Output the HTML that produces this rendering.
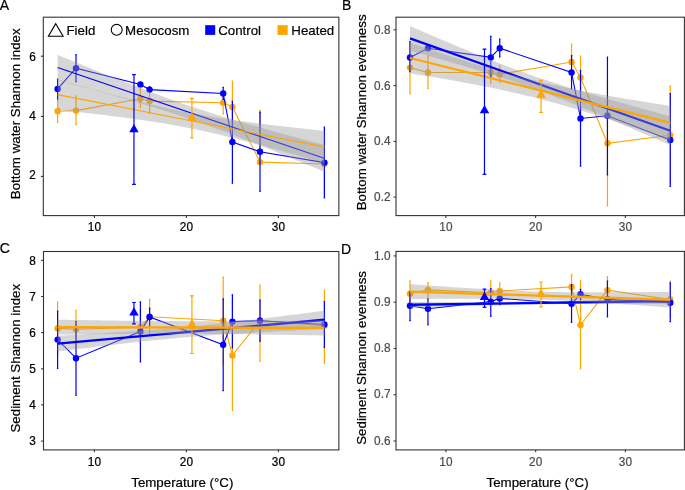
<!DOCTYPE html>
<html><head><meta charset="utf-8"><style>
html,body{margin:0;padding:0;background:#fff;}
body{width:685px;height:490px;overflow:hidden;font-family:"Liberation Sans",sans-serif;}
svg{display:block;will-change:transform;}
</style></head><body>
<svg width="685" height="490" viewBox="0 0 685 490" font-family="Liberation Sans, sans-serif">
<rect width="685" height="490" fill="#fff"/>
<clipPath id="cA"><rect x="43.3" y="17.2" width="295.55" height="198.4"/></clipPath>
<g clip-path="url(#cA)">
<line x1="57.6" y1="99.8" x2="57.6" y2="122.4" stroke="#FFA500" stroke-width="1.2"/><line x1="56.9" y1="99.8" x2="58.3" y2="99.8" stroke="#FFA500" stroke-width="1.2"/><line x1="56.9" y1="122.4" x2="58.3" y2="122.4" stroke="#FFA500" stroke-width="1.2"/>
<line x1="76" y1="95.9" x2="76" y2="124.7" stroke="#FFA500" stroke-width="1.2"/><line x1="75.3" y1="95.9" x2="76.7" y2="95.9" stroke="#FFA500" stroke-width="1.2"/><line x1="75.3" y1="124.7" x2="76.7" y2="124.7" stroke="#FFA500" stroke-width="1.2"/>
<line x1="140.4" y1="87.9" x2="140.4" y2="107.2" stroke="#FFA500" stroke-width="1.2"/><line x1="139.7" y1="87.9" x2="141.1" y2="87.9" stroke="#FFA500" stroke-width="1.2"/><line x1="139.7" y1="107.2" x2="141.1" y2="107.2" stroke="#FFA500" stroke-width="1.2"/>
<line x1="149.6" y1="86.3" x2="149.6" y2="113.4" stroke="#FFA500" stroke-width="1.2"/><line x1="148.9" y1="86.3" x2="150.3" y2="86.3" stroke="#FFA500" stroke-width="1.2"/><line x1="148.9" y1="113.4" x2="150.3" y2="113.4" stroke="#FFA500" stroke-width="1.2"/>
<line x1="223.2" y1="93" x2="223.2" y2="113.8" stroke="#FFA500" stroke-width="1.2"/><line x1="222.5" y1="93" x2="223.9" y2="93" stroke="#FFA500" stroke-width="1.2"/><line x1="222.5" y1="113.8" x2="223.9" y2="113.8" stroke="#FFA500" stroke-width="1.2"/>
<line x1="232.4" y1="81.2" x2="232.4" y2="133" stroke="#FFA500" stroke-width="1.2"/><line x1="231.7" y1="81.2" x2="233.1" y2="81.2" stroke="#FFA500" stroke-width="1.2"/><line x1="231.7" y1="133" x2="233.1" y2="133" stroke="#FFA500" stroke-width="1.2"/>
<line x1="260" y1="110.3" x2="260" y2="160" stroke="#FFA500" stroke-width="1.2"/><line x1="259.3" y1="110.3" x2="260.7" y2="110.3" stroke="#FFA500" stroke-width="1.2"/><line x1="259.3" y1="160" x2="260.7" y2="160" stroke="#FFA500" stroke-width="1.2"/>
<line x1="324.4" y1="129.5" x2="324.4" y2="193.8" stroke="#FFA500" stroke-width="1.2"/><line x1="323.7" y1="129.5" x2="325.1" y2="129.5" stroke="#FFA500" stroke-width="1.2"/><line x1="323.7" y1="193.8" x2="325.1" y2="193.8" stroke="#FFA500" stroke-width="1.2"/>
<polyline points="57.6,111.2 76,110.6 140.4,98.8 149.6,101.1 223.2,102.8 232.4,107 260,162.1 324.4,164" fill="none" stroke="#FFA500" stroke-width="1.1"/>
<circle cx="57.6" cy="111.2" r="3.2" fill="#FFA500"/>
<circle cx="76" cy="110.6" r="3.2" fill="#FFA500"/>
<circle cx="140.4" cy="98.8" r="3.2" fill="#FFA500"/>
<circle cx="149.6" cy="101.1" r="3.2" fill="#FFA500"/>
<circle cx="223.2" cy="102.8" r="3.2" fill="#FFA500"/>
<circle cx="232.4" cy="107" r="3.2" fill="#FFA500"/>
<circle cx="260" cy="162.1" r="3.2" fill="#FFA500"/>
<circle cx="324.4" cy="164" r="3.2" fill="#FFA500"/>
<line x1="57.6" y1="79.2" x2="57.6" y2="98.8" stroke="#0000FF" stroke-width="1.2"/><line x1="56.9" y1="79.2" x2="58.3" y2="79.2" stroke="#0000FF" stroke-width="1.2"/><line x1="56.9" y1="98.8" x2="58.3" y2="98.8" stroke="#0000FF" stroke-width="1.2"/>
<line x1="76" y1="54.7" x2="76" y2="81.6" stroke="#0000FF" stroke-width="1.2"/><line x1="75.3" y1="54.7" x2="76.7" y2="54.7" stroke="#0000FF" stroke-width="1.2"/><line x1="75.3" y1="81.6" x2="76.7" y2="81.6" stroke="#0000FF" stroke-width="1.2"/>
<line x1="140.4" y1="82.5" x2="140.4" y2="86.5" stroke="#0000FF" stroke-width="1.2"/><line x1="139.7" y1="82.5" x2="141.1" y2="82.5" stroke="#0000FF" stroke-width="1.2"/><line x1="139.7" y1="86.5" x2="141.1" y2="86.5" stroke="#0000FF" stroke-width="1.2"/>
<line x1="149.6" y1="86.8" x2="149.6" y2="92.4" stroke="#0000FF" stroke-width="1.2"/><line x1="148.9" y1="86.8" x2="150.3" y2="86.8" stroke="#0000FF" stroke-width="1.2"/><line x1="148.9" y1="92.4" x2="150.3" y2="92.4" stroke="#0000FF" stroke-width="1.2"/>
<line x1="223.2" y1="87.3" x2="223.2" y2="99.5" stroke="#0000FF" stroke-width="1.2"/><line x1="222.5" y1="87.3" x2="223.9" y2="87.3" stroke="#0000FF" stroke-width="1.2"/><line x1="222.5" y1="99.5" x2="223.9" y2="99.5" stroke="#0000FF" stroke-width="1.2"/>
<line x1="232.4" y1="101.3" x2="232.4" y2="183.2" stroke="#0000FF" stroke-width="1.2"/><line x1="231.7" y1="101.3" x2="233.1" y2="101.3" stroke="#0000FF" stroke-width="1.2"/><line x1="231.7" y1="183.2" x2="233.1" y2="183.2" stroke="#0000FF" stroke-width="1.2"/>
<line x1="260" y1="112.1" x2="260" y2="191.3" stroke="#0000FF" stroke-width="1.2"/><line x1="259.3" y1="112.1" x2="260.7" y2="112.1" stroke="#0000FF" stroke-width="1.2"/><line x1="259.3" y1="191.3" x2="260.7" y2="191.3" stroke="#0000FF" stroke-width="1.2"/>
<line x1="324.4" y1="127.2" x2="324.4" y2="197.8" stroke="#0000FF" stroke-width="1.2"/><line x1="323.7" y1="127.2" x2="325.1" y2="127.2" stroke="#0000FF" stroke-width="1.2"/><line x1="323.7" y1="197.8" x2="325.1" y2="197.8" stroke="#0000FF" stroke-width="1.2"/>
<polyline points="57.6,88.9 76,68.2 140.4,84.4 149.6,89.6 223.2,93.5 232.4,142 260,151.7 324.4,162.6" fill="none" stroke="#0000FF" stroke-width="1.1"/>
<circle cx="57.6" cy="88.9" r="3.2" fill="#0000FF"/>
<circle cx="76" cy="68.2" r="3.2" fill="#0000FF"/>
<circle cx="140.4" cy="84.4" r="3.2" fill="#0000FF"/>
<circle cx="149.6" cy="89.6" r="3.2" fill="#0000FF"/>
<circle cx="223.2" cy="93.5" r="3.2" fill="#0000FF"/>
<circle cx="232.4" cy="142" r="3.2" fill="#0000FF"/>
<circle cx="260" cy="151.7" r="3.2" fill="#0000FF"/>
<circle cx="324.4" cy="162.6" r="3.2" fill="#0000FF"/>
<path d="M57.6 54.8 L62.05 56.63 L66.49 58.47 L70.94 60.3 L75.39 62.13 L79.83 63.95 L84.28 65.77 L88.73 67.58 L93.17 69.39 L97.62 71.19 L102.07 72.99 L106.51 74.78 L110.96 76.57 L115.41 78.34 L119.85 80.11 L124.3 81.87 L128.75 83.61 L133.19 85.35 L137.64 87.07 L142.09 88.78 L146.53 90.48 L150.98 92.16 L155.43 93.83 L159.87 95.47 L164.32 97.1 L168.77 98.71 L173.21 100.3 L177.66 101.87 L182.11 103.41 L186.55 104.94 L191 106.44 L195.45 107.92 L199.89 109.38 L204.34 110.82 L208.79 112.24 L213.23 113.64 L217.68 115.02 L222.13 116.38 L226.57 117.73 L231.02 119.06 L235.47 120.38 L239.91 121.68 L244.36 122.97 L248.81 124.25 L253.25 125.53 L257.7 126.79 L262.15 128.04 L266.59 129.28 L271.04 130.52 L275.49 131.75 L279.93 132.98 L284.38 134.2 L288.83 135.41 L293.27 136.62 L297.72 137.83 L302.17 139.03 L306.61 140.23 L311.06 141.42 L315.51 142.61 L319.95 143.8 L324.4 144.99 L324.4 171.75 L319.95 169.9 L315.51 168.06 L311.06 166.23 L306.61 164.39 L302.17 162.56 L297.72 160.73 L293.27 158.91 L288.83 157.09 L284.38 155.28 L279.93 153.47 L275.49 151.66 L271.04 149.87 L266.59 148.08 L262.15 146.29 L257.7 144.52 L253.25 142.75 L248.81 140.99 L244.36 139.24 L239.91 137.51 L235.47 135.78 L231.02 134.07 L226.57 132.37 L222.13 130.69 L217.68 129.02 L213.23 127.38 L208.79 125.75 L204.34 124.13 L199.89 122.54 L195.45 120.97 L191 119.43 L186.55 117.9 L182.11 116.4 L177.66 114.91 L173.21 113.45 L168.77 112.01 L164.32 110.59 L159.87 109.19 L155.43 107.81 L150.98 106.45 L146.53 105.1 L142.09 103.77 L137.64 102.45 L133.19 101.14 L128.75 99.85 L124.3 98.57 L119.85 97.3 L115.41 96.03 L110.96 94.78 L106.51 93.54 L102.07 92.3 L97.62 91.07 L93.17 89.84 L88.73 88.62 L84.28 87.41 L79.83 86.19 L75.39 84.99 L70.94 83.79 L66.49 82.59 L62.05 81.39 L57.6 80.2Z" fill="#999" fill-opacity="0.4"/>
<line x1="57.6" y1="67.5" x2="324.2" y2="158.3" stroke="#0000FF" stroke-width="1.15"/>
<path d="M57.6 79.4 L62.05 80.66 L66.49 81.92 L70.94 83.18 L75.39 84.43 L79.83 85.68 L84.28 86.92 L88.73 88.16 L93.17 89.39 L97.62 90.61 L102.07 91.83 L106.51 93.03 L110.96 94.23 L115.41 95.42 L119.85 96.6 L124.3 97.77 L128.75 98.93 L133.19 100.07 L137.64 101.2 L142.09 102.31 L146.53 103.41 L150.98 104.49 L155.43 105.54 L159.87 106.58 L164.32 107.59 L168.77 108.58 L173.21 109.55 L177.66 110.48 L182.11 111.4 L186.55 112.28 L191 113.14 L195.45 113.97 L199.89 114.77 L204.34 115.55 L208.79 116.31 L213.23 117.04 L217.68 117.74 L222.13 118.43 L226.57 119.1 L231.02 119.75 L235.47 120.38 L239.91 120.99 L244.36 121.59 L248.81 122.18 L253.25 122.75 L257.7 123.32 L262.15 123.87 L266.59 124.41 L271.04 124.95 L275.49 125.48 L279.93 126 L284.38 126.51 L288.83 127.02 L293.27 127.52 L297.72 128.02 L302.17 128.51 L306.61 129 L311.06 129.49 L315.51 129.97 L319.95 130.44 L324.4 130.92 L324.4 162.96 L319.95 161.69 L315.51 160.42 L311.06 159.16 L306.61 157.9 L302.17 156.64 L297.72 155.39 L293.27 154.14 L288.83 152.9 L284.38 151.66 L279.93 150.43 L275.49 149.21 L271.04 147.99 L266.59 146.78 L262.15 145.58 L257.7 144.39 L253.25 143.21 L248.81 142.04 L244.36 140.88 L239.91 139.74 L235.47 138.61 L231.02 137.5 L226.57 136.4 L222.13 135.32 L217.68 134.26 L213.23 133.23 L208.79 132.21 L204.34 131.22 L199.89 130.25 L195.45 129.31 L191 128.4 L186.55 127.51 L182.11 126.65 L177.66 125.82 L173.21 125.01 L168.77 124.23 L164.32 123.48 L159.87 122.75 L155.43 122.04 L150.98 121.35 L146.53 120.68 L142.09 120.03 L137.64 119.4 L133.19 118.79 L128.75 118.18 L124.3 117.6 L119.85 117.02 L115.41 116.46 L110.96 115.9 L106.51 115.36 L102.07 114.82 L97.62 114.29 L93.17 113.77 L88.73 113.26 L84.28 112.75 L79.83 112.25 L75.39 111.75 L70.94 111.26 L66.49 110.77 L62.05 110.28 L57.6 109.8Z" fill="#999" fill-opacity="0.4"/>
<line x1="57.6" y1="94.6" x2="324.2" y2="146.9" stroke="#FFA500" stroke-width="1.15"/>
<line x1="191.92" y1="98.3" x2="191.92" y2="138" stroke="#FFA500" stroke-width="1.2"/><line x1="190.02" y1="98.3" x2="193.82" y2="98.3" stroke="#FFA500" stroke-width="1.2"/><line x1="190.02" y1="138" x2="193.82" y2="138" stroke="#FFA500" stroke-width="1.2"/>
<line x1="133.96" y1="74.6" x2="133.96" y2="184.4" stroke="#0000FF" stroke-width="1.2"/><line x1="132.06" y1="74.6" x2="135.86" y2="74.6" stroke="#0000FF" stroke-width="1.2"/><line x1="132.06" y1="184.4" x2="135.86" y2="184.4" stroke="#0000FF" stroke-width="1.2"/>
<path d="M191.92 112.8L196.68 121.05L187.16 121.05Z" fill="#FFA500"/>
<path d="M133.96 123.9L138.72 132.15L129.2 132.15Z" fill="#0000FF"/>
</g>
<rect x="43.3" y="17.2" width="295.55" height="198.4" fill="none" stroke="#333" stroke-width="1.1"/>
<line x1="94.4" y1="215.6" x2="94.4" y2="218" stroke="#333" stroke-width="1.1"/>
<text transform="translate(94.4 231) scale(0.93 1)" fill="#000" text-anchor="middle" font-size="12.7" stroke="#000" stroke-width="0.25">10</text>
<line x1="186.4" y1="215.6" x2="186.4" y2="218" stroke="#333" stroke-width="1.1"/>
<text transform="translate(186.4 231) scale(0.93 1)" fill="#000" text-anchor="middle" font-size="12.7" stroke="#000" stroke-width="0.25">20</text>
<line x1="278.4" y1="215.6" x2="278.4" y2="218" stroke="#333" stroke-width="1.1"/>
<text transform="translate(278.4 231) scale(0.93 1)" fill="#000" text-anchor="middle" font-size="12.7" stroke="#000" stroke-width="0.25">30</text>
<line x1="40.9" y1="56.2" x2="43.3" y2="56.2" stroke="#333" stroke-width="1.1"/>
<text transform="translate(35.8 60.7) scale(0.93 1)" fill="#000" text-anchor="end" font-size="12.7" stroke="#000" stroke-width="0.25">6</text>
<line x1="40.9" y1="116.4" x2="43.3" y2="116.4" stroke="#333" stroke-width="1.1"/>
<text transform="translate(35.8 119.8) scale(0.93 1)" fill="#000" text-anchor="end" font-size="12.7" stroke="#000" stroke-width="0.25">4</text>
<line x1="40.9" y1="176.4" x2="43.3" y2="176.4" stroke="#333" stroke-width="1.1"/>
<text transform="translate(35.8 179.2) scale(0.93 1)" fill="#000" text-anchor="end" font-size="12.7" stroke="#000" stroke-width="0.25">2</text>
<clipPath id="cB"><rect x="396" y="17.2" width="288.4" height="198.4"/></clipPath>
<g clip-path="url(#cB)">
<line x1="410" y1="41.5" x2="410" y2="93.7" stroke="#FFA500" stroke-width="1.2"/><line x1="409.3" y1="41.5" x2="410.7" y2="41.5" stroke="#FFA500" stroke-width="1.2"/><line x1="409.3" y1="93.7" x2="410.7" y2="93.7" stroke="#FFA500" stroke-width="1.2"/>
<line x1="427.95" y1="56.2" x2="427.95" y2="88.5" stroke="#FFA500" stroke-width="1.2"/><line x1="427.25" y1="56.2" x2="428.65" y2="56.2" stroke="#FFA500" stroke-width="1.2"/><line x1="427.25" y1="88.5" x2="428.65" y2="88.5" stroke="#FFA500" stroke-width="1.2"/>
<line x1="490.77" y1="65.7" x2="490.77" y2="83.1" stroke="#FFA500" stroke-width="1.2"/><line x1="490.07" y1="65.7" x2="491.47" y2="65.7" stroke="#FFA500" stroke-width="1.2"/><line x1="490.07" y1="83.1" x2="491.47" y2="83.1" stroke="#FFA500" stroke-width="1.2"/>
<line x1="499.75" y1="65.7" x2="499.75" y2="82.2" stroke="#FFA500" stroke-width="1.2"/><line x1="499.05" y1="65.7" x2="500.45" y2="65.7" stroke="#FFA500" stroke-width="1.2"/><line x1="499.05" y1="82.2" x2="500.45" y2="82.2" stroke="#FFA500" stroke-width="1.2"/>
<line x1="571.55" y1="44.2" x2="571.55" y2="80" stroke="#FFA500" stroke-width="1.2"/><line x1="570.85" y1="44.2" x2="572.25" y2="44.2" stroke="#FFA500" stroke-width="1.2"/><line x1="570.85" y1="80" x2="572.25" y2="80" stroke="#FFA500" stroke-width="1.2"/>
<line x1="580.52" y1="56" x2="580.52" y2="99" stroke="#FFA500" stroke-width="1.2"/><line x1="579.82" y1="56" x2="581.23" y2="56" stroke="#FFA500" stroke-width="1.2"/><line x1="579.82" y1="99" x2="581.23" y2="99" stroke="#FFA500" stroke-width="1.2"/>
<line x1="607.45" y1="80" x2="607.45" y2="206" stroke="#FFA500" stroke-width="1.2"/><line x1="606.75" y1="80" x2="608.15" y2="80" stroke="#FFA500" stroke-width="1.2"/><line x1="606.75" y1="206" x2="608.15" y2="206" stroke="#FFA500" stroke-width="1.2"/>
<line x1="670.27" y1="86.1" x2="670.27" y2="184" stroke="#FFA500" stroke-width="1.2"/><line x1="669.57" y1="86.1" x2="670.98" y2="86.1" stroke="#FFA500" stroke-width="1.2"/><line x1="669.57" y1="184" x2="670.98" y2="184" stroke="#FFA500" stroke-width="1.2"/>
<polyline points="410,67.6 427.95,72.5 490.77,72.5 499.75,74.3 571.55,62 580.52,77.6 607.45,143.3 670.27,135.3" fill="none" stroke="#FFA500" stroke-width="1.1"/>
<circle cx="410" cy="67.6" r="3.2" fill="#FFA500"/>
<circle cx="427.95" cy="72.5" r="3.2" fill="#FFA500"/>
<circle cx="490.77" cy="72.5" r="3.2" fill="#FFA500"/>
<circle cx="499.75" cy="74.3" r="3.2" fill="#FFA500"/>
<circle cx="571.55" cy="62" r="3.2" fill="#FFA500"/>
<circle cx="580.52" cy="77.6" r="3.2" fill="#FFA500"/>
<circle cx="607.45" cy="143.3" r="3.2" fill="#FFA500"/>
<circle cx="670.27" cy="135.3" r="3.2" fill="#FFA500"/>
<line x1="410" y1="41.5" x2="410" y2="71.7" stroke="#0000FF" stroke-width="1.2"/><line x1="409.3" y1="41.5" x2="410.7" y2="41.5" stroke="#0000FF" stroke-width="1.2"/><line x1="409.3" y1="71.7" x2="410.7" y2="71.7" stroke="#0000FF" stroke-width="1.2"/>
<line x1="427.95" y1="47" x2="427.95" y2="49.6" stroke="#0000FF" stroke-width="1.2"/><line x1="427.25" y1="47" x2="428.65" y2="47" stroke="#0000FF" stroke-width="1.2"/><line x1="427.25" y1="49.6" x2="428.65" y2="49.6" stroke="#0000FF" stroke-width="1.2"/>
<line x1="490.77" y1="36.3" x2="490.77" y2="76.7" stroke="#0000FF" stroke-width="1.2"/><line x1="490.07" y1="36.3" x2="491.47" y2="36.3" stroke="#0000FF" stroke-width="1.2"/><line x1="490.07" y1="76.7" x2="491.47" y2="76.7" stroke="#0000FF" stroke-width="1.2"/>
<line x1="499.75" y1="39" x2="499.75" y2="57" stroke="#0000FF" stroke-width="1.2"/><line x1="499.05" y1="39" x2="500.45" y2="39" stroke="#0000FF" stroke-width="1.2"/><line x1="499.05" y1="57" x2="500.45" y2="57" stroke="#0000FF" stroke-width="1.2"/>
<line x1="571.55" y1="55.6" x2="571.55" y2="89" stroke="#0000FF" stroke-width="1.2"/><line x1="570.85" y1="55.6" x2="572.25" y2="55.6" stroke="#0000FF" stroke-width="1.2"/><line x1="570.85" y1="89" x2="572.25" y2="89" stroke="#0000FF" stroke-width="1.2"/>
<line x1="580.52" y1="70.3" x2="580.52" y2="166.2" stroke="#0000FF" stroke-width="1.2"/><line x1="579.82" y1="70.3" x2="581.23" y2="70.3" stroke="#0000FF" stroke-width="1.2"/><line x1="579.82" y1="166.2" x2="581.23" y2="166.2" stroke="#0000FF" stroke-width="1.2"/>
<line x1="607.45" y1="57" x2="607.45" y2="174.8" stroke="#0000FF" stroke-width="1.2"/><line x1="606.75" y1="57" x2="608.15" y2="57" stroke="#0000FF" stroke-width="1.2"/><line x1="606.75" y1="174.8" x2="608.15" y2="174.8" stroke="#0000FF" stroke-width="1.2"/>
<line x1="670.27" y1="93.5" x2="670.27" y2="186.3" stroke="#0000FF" stroke-width="1.2"/><line x1="669.57" y1="93.5" x2="670.98" y2="93.5" stroke="#0000FF" stroke-width="1.2"/><line x1="669.57" y1="186.3" x2="670.98" y2="186.3" stroke="#0000FF" stroke-width="1.2"/>
<polyline points="410,57.5 427.95,48.3 490.77,57.4 499.75,48.2 571.55,72.5 580.52,118.5 607.45,115.7 670.27,140" fill="none" stroke="#0000FF" stroke-width="1.1"/>
<circle cx="410" cy="57.5" r="3.2" fill="#0000FF"/>
<circle cx="427.95" cy="48.3" r="3.2" fill="#0000FF"/>
<circle cx="490.77" cy="57.4" r="3.2" fill="#0000FF"/>
<circle cx="499.75" cy="48.2" r="3.2" fill="#0000FF"/>
<circle cx="571.55" cy="72.5" r="3.2" fill="#0000FF"/>
<circle cx="580.52" cy="118.5" r="3.2" fill="#0000FF"/>
<circle cx="607.45" cy="115.7" r="3.2" fill="#0000FF"/>
<circle cx="670.27" cy="140" r="3.2" fill="#0000FF"/>
<path d="M410 26.1 L414.34 27.97 L418.68 29.84 L423.01 31.71 L427.35 33.57 L431.69 35.43 L436.03 37.28 L440.37 39.13 L444.7 40.97 L449.04 42.81 L453.38 44.64 L457.72 46.46 L462.06 48.27 L466.39 50.07 L470.73 51.86 L475.07 53.64 L479.41 55.4 L483.74 57.16 L488.08 58.89 L492.42 60.61 L496.76 62.32 L501.1 64 L505.43 65.67 L509.77 67.31 L514.11 68.93 L518.45 70.53 L522.79 72.1 L527.12 73.65 L531.46 75.18 L535.8 76.68 L540.14 78.15 L544.48 79.61 L548.81 81.04 L553.15 82.45 L557.49 83.84 L561.83 85.22 L566.16 86.57 L570.5 87.91 L574.84 89.23 L579.18 90.55 L583.52 91.84 L587.85 93.13 L592.19 94.41 L596.53 95.67 L600.87 96.93 L605.21 98.18 L609.54 99.43 L613.88 100.66 L618.22 101.89 L622.56 103.12 L626.9 104.34 L631.23 105.56 L635.57 106.77 L639.91 107.97 L644.25 109.18 L648.59 110.38 L652.92 111.58 L657.26 112.77 L661.6 113.97 L665.94 115.16 L670.27 116.34 L670.27 145.24 L665.94 143.35 L661.6 141.46 L657.26 139.57 L652.92 137.69 L648.59 135.8 L644.25 133.93 L639.91 132.05 L635.57 130.18 L631.23 128.31 L626.9 126.45 L622.56 124.59 L618.22 122.73 L613.88 120.88 L609.54 119.04 L605.21 117.2 L600.87 115.37 L596.53 113.55 L592.19 111.74 L587.85 109.94 L583.52 108.14 L579.18 106.36 L574.84 104.59 L570.5 102.84 L566.16 101.1 L561.83 99.37 L557.49 97.67 L553.15 95.98 L548.81 94.31 L544.48 92.66 L540.14 91.04 L535.8 89.43 L531.46 87.86 L527.12 86.3 L522.79 84.77 L518.45 83.26 L514.11 81.78 L509.77 80.32 L505.43 78.89 L501.1 77.47 L496.76 76.08 L492.42 74.7 L488.08 73.34 L483.74 72 L479.41 70.67 L475.07 69.36 L470.73 68.06 L466.39 66.77 L462.06 65.49 L457.72 64.22 L453.38 62.96 L449.04 61.71 L444.7 60.46 L440.37 59.23 L436.03 57.99 L431.69 56.77 L427.35 55.55 L423.01 54.33 L418.68 53.12 L414.34 51.91 L410 50.7Z" fill="#999" fill-opacity="0.4"/>
<line x1="410" y1="38.4" x2="670.3" y2="130.8" stroke="#0000FF" stroke-width="2.2"/>
<path d="M410 42.7 L414.34 44.16 L418.68 45.61 L423.01 47.06 L427.35 48.51 L431.69 49.95 L436.03 51.38 L440.37 52.8 L444.7 54.22 L449.04 55.63 L453.38 57.04 L457.72 58.43 L462.06 59.81 L466.39 61.18 L470.73 62.54 L475.07 63.89 L479.41 65.23 L483.74 66.55 L488.08 67.85 L492.42 69.14 L496.76 70.41 L501.1 71.66 L505.43 72.89 L509.77 74.1 L514.11 75.29 L518.45 76.45 L522.79 77.59 L527.12 78.71 L531.46 79.8 L535.8 80.87 L540.14 81.91 L544.48 82.93 L548.81 83.92 L553.15 84.9 L557.49 85.85 L561.83 86.78 L566.16 87.69 L570.5 88.58 L574.84 89.45 L579.18 90.31 L583.52 91.15 L587.85 91.98 L592.19 92.79 L596.53 93.59 L600.87 94.38 L605.21 95.16 L609.54 95.93 L613.88 96.69 L618.22 97.44 L622.56 98.18 L626.9 98.92 L631.23 99.65 L635.57 100.37 L639.91 101.09 L644.25 101.81 L648.59 102.51 L652.92 103.22 L657.26 103.92 L661.6 104.61 L665.94 105.31 L670.27 105.99 L670.27 139.79 L665.94 138.32 L661.6 136.85 L657.26 135.38 L652.92 133.92 L648.59 132.46 L644.25 131 L639.91 129.55 L635.57 128.11 L631.23 126.67 L626.9 125.24 L622.56 123.81 L618.22 122.39 L613.88 120.98 L609.54 119.58 L605.21 118.18 L600.87 116.8 L596.53 115.42 L592.19 114.06 L587.85 112.71 L583.52 111.37 L579.18 110.05 L574.84 108.75 L570.5 107.46 L566.16 106.18 L561.83 104.93 L557.49 103.7 L553.15 102.49 L548.81 101.3 L544.48 100.13 L540.14 98.98 L535.8 97.86 L531.46 96.77 L527.12 95.7 L522.79 94.65 L518.45 93.63 L514.11 92.63 L509.77 91.65 L505.43 90.7 L501.1 89.77 L496.76 88.85 L492.42 87.96 L488.08 87.08 L483.74 86.23 L479.41 85.38 L475.07 84.55 L470.73 83.74 L466.39 82.94 L462.06 82.15 L457.72 81.37 L453.38 80.6 L449.04 79.83 L444.7 79.08 L440.37 78.34 L436.03 77.6 L431.69 76.87 L427.35 76.14 L423.01 75.43 L418.68 74.71 L414.34 74 L410 73.3Z" fill="#999" fill-opacity="0.4"/>
<line x1="410" y1="58" x2="670.3" y2="122.9" stroke="#FFA500" stroke-width="2.2"/>
<line x1="541.03" y1="80.4" x2="541.03" y2="112.3" stroke="#FFA500" stroke-width="1.2"/><line x1="539.13" y1="80.4" x2="542.93" y2="80.4" stroke="#FFA500" stroke-width="1.2"/><line x1="539.13" y1="112.3" x2="542.93" y2="112.3" stroke="#FFA500" stroke-width="1.2"/>
<line x1="484.49" y1="49.1" x2="484.49" y2="174.4" stroke="#0000FF" stroke-width="1.2"/><line x1="482.59" y1="49.1" x2="486.39" y2="49.1" stroke="#0000FF" stroke-width="1.2"/><line x1="482.59" y1="174.4" x2="486.39" y2="174.4" stroke="#0000FF" stroke-width="1.2"/>
<path d="M541.03 89.4L545.8 97.65L536.27 97.65Z" fill="#FFA500"/>
<path d="M484.49 104.9L489.26 113.15L479.73 113.15Z" fill="#0000FF"/>
</g>
<rect x="396" y="17.2" width="288.4" height="198.4" fill="none" stroke="#333" stroke-width="1.1"/>
<line x1="445.9" y1="215.6" x2="445.9" y2="218" stroke="#333" stroke-width="1.1"/>
<text transform="translate(445.9 230.7) scale(0.93 1)" fill="#4D4D4D" text-anchor="middle" font-size="12.7" stroke="#4D4D4D" stroke-width="0.25">10</text>
<line x1="535.65" y1="215.6" x2="535.65" y2="218" stroke="#333" stroke-width="1.1"/>
<text transform="translate(535.65 230.7) scale(0.93 1)" fill="#4D4D4D" text-anchor="middle" font-size="12.7" stroke="#4D4D4D" stroke-width="0.25">20</text>
<line x1="625.4" y1="215.6" x2="625.4" y2="218" stroke="#333" stroke-width="1.1"/>
<text transform="translate(625.4 230.7) scale(0.93 1)" fill="#4D4D4D" text-anchor="middle" font-size="12.7" stroke="#4D4D4D" stroke-width="0.25">30</text>
<line x1="393.6" y1="29.8" x2="396" y2="29.8" stroke="#333" stroke-width="1.1"/>
<text transform="translate(390.5 33.9) scale(0.93 1)" fill="#4D4D4D" text-anchor="end" font-size="12.7" stroke="#4D4D4D" stroke-width="0.25">0.8</text>
<line x1="393.6" y1="85.6" x2="396" y2="85.6" stroke="#333" stroke-width="1.1"/>
<text transform="translate(390.5 89.5) scale(0.93 1)" fill="#4D4D4D" text-anchor="end" font-size="12.7" stroke="#4D4D4D" stroke-width="0.25">0.6</text>
<line x1="393.6" y1="141.4" x2="396" y2="141.4" stroke="#333" stroke-width="1.1"/>
<text transform="translate(390.5 144.8) scale(0.93 1)" fill="#4D4D4D" text-anchor="end" font-size="12.7" stroke="#4D4D4D" stroke-width="0.25">0.4</text>
<line x1="393.6" y1="197.1" x2="396" y2="197.1" stroke="#333" stroke-width="1.1"/>
<text transform="translate(390.5 200.6) scale(0.93 1)" fill="#4D4D4D" text-anchor="end" font-size="12.7" stroke="#4D4D4D" stroke-width="0.25">0.2</text>
<clipPath id="cC"><rect x="43.5" y="251.5" width="295.35" height="198.4"/></clipPath>
<g clip-path="url(#cC)">
<line x1="57.6" y1="302.2" x2="57.6" y2="354" stroke="#FFA500" stroke-width="1.2"/><line x1="56.9" y1="302.2" x2="58.3" y2="302.2" stroke="#FFA500" stroke-width="1.2"/><line x1="56.9" y1="354" x2="58.3" y2="354" stroke="#FFA500" stroke-width="1.2"/>
<line x1="76" y1="310.4" x2="76" y2="348" stroke="#FFA500" stroke-width="1.2"/><line x1="75.3" y1="310.4" x2="76.7" y2="310.4" stroke="#FFA500" stroke-width="1.2"/><line x1="75.3" y1="348" x2="76.7" y2="348" stroke="#FFA500" stroke-width="1.2"/>
<line x1="140.4" y1="310" x2="140.4" y2="344" stroke="#FFA500" stroke-width="1.2"/><line x1="139.7" y1="310" x2="141.1" y2="310" stroke="#FFA500" stroke-width="1.2"/><line x1="139.7" y1="344" x2="141.1" y2="344" stroke="#FFA500" stroke-width="1.2"/>
<line x1="149.6" y1="299.4" x2="149.6" y2="333.9" stroke="#FFA500" stroke-width="1.2"/><line x1="148.9" y1="299.4" x2="150.3" y2="299.4" stroke="#FFA500" stroke-width="1.2"/><line x1="148.9" y1="333.9" x2="150.3" y2="333.9" stroke="#FFA500" stroke-width="1.2"/>
<line x1="223.2" y1="277.1" x2="223.2" y2="364" stroke="#FFA500" stroke-width="1.2"/><line x1="222.5" y1="277.1" x2="223.9" y2="277.1" stroke="#FFA500" stroke-width="1.2"/><line x1="222.5" y1="364" x2="223.9" y2="364" stroke="#FFA500" stroke-width="1.2"/>
<line x1="232.4" y1="300" x2="232.4" y2="410.4" stroke="#FFA500" stroke-width="1.2"/><line x1="231.7" y1="300" x2="233.1" y2="300" stroke="#FFA500" stroke-width="1.2"/><line x1="231.7" y1="410.4" x2="233.1" y2="410.4" stroke="#FFA500" stroke-width="1.2"/>
<line x1="260" y1="285" x2="260" y2="361.5" stroke="#FFA500" stroke-width="1.2"/><line x1="259.3" y1="285" x2="260.7" y2="285" stroke="#FFA500" stroke-width="1.2"/><line x1="259.3" y1="361.5" x2="260.7" y2="361.5" stroke="#FFA500" stroke-width="1.2"/>
<line x1="324.4" y1="290.2" x2="324.4" y2="363.5" stroke="#FFA500" stroke-width="1.2"/><line x1="323.7" y1="290.2" x2="325.1" y2="290.2" stroke="#FFA500" stroke-width="1.2"/><line x1="323.7" y1="363.5" x2="325.1" y2="363.5" stroke="#FFA500" stroke-width="1.2"/>
<polyline points="57.6,328.4 76,329.2 140.4,327.3 149.6,316.7 223.2,320.7 232.4,355.4 260,320.5 324.4,325.7" fill="none" stroke="#FFA500" stroke-width="1.1"/>
<circle cx="57.6" cy="328.4" r="3.2" fill="#FFA500"/>
<circle cx="76" cy="329.2" r="3.2" fill="#FFA500"/>
<circle cx="140.4" cy="327.3" r="3.2" fill="#FFA500"/>
<circle cx="149.6" cy="316.7" r="3.2" fill="#FFA500"/>
<circle cx="223.2" cy="320.7" r="3.2" fill="#FFA500"/>
<circle cx="232.4" cy="355.4" r="3.2" fill="#FFA500"/>
<circle cx="260" cy="320.5" r="3.2" fill="#FFA500"/>
<circle cx="324.4" cy="325.7" r="3.2" fill="#FFA500"/>
<line x1="57.6" y1="311" x2="57.6" y2="368.4" stroke="#0000FF" stroke-width="1.2"/><line x1="56.9" y1="311" x2="58.3" y2="311" stroke="#0000FF" stroke-width="1.2"/><line x1="56.9" y1="368.4" x2="58.3" y2="368.4" stroke="#0000FF" stroke-width="1.2"/>
<line x1="76" y1="321.5" x2="76" y2="395.3" stroke="#0000FF" stroke-width="1.2"/><line x1="75.3" y1="321.5" x2="76.7" y2="321.5" stroke="#0000FF" stroke-width="1.2"/><line x1="75.3" y1="395.3" x2="76.7" y2="395.3" stroke="#0000FF" stroke-width="1.2"/>
<line x1="140.4" y1="301.8" x2="140.4" y2="362" stroke="#0000FF" stroke-width="1.2"/><line x1="139.7" y1="301.8" x2="141.1" y2="301.8" stroke="#0000FF" stroke-width="1.2"/><line x1="139.7" y1="362" x2="141.1" y2="362" stroke="#0000FF" stroke-width="1.2"/>
<line x1="149.6" y1="308.1" x2="149.6" y2="326" stroke="#0000FF" stroke-width="1.2"/><line x1="148.9" y1="308.1" x2="150.3" y2="308.1" stroke="#0000FF" stroke-width="1.2"/><line x1="148.9" y1="326" x2="150.3" y2="326" stroke="#0000FF" stroke-width="1.2"/>
<line x1="223.2" y1="298.9" x2="223.2" y2="390.6" stroke="#0000FF" stroke-width="1.2"/><line x1="222.5" y1="298.9" x2="223.9" y2="298.9" stroke="#0000FF" stroke-width="1.2"/><line x1="222.5" y1="390.6" x2="223.9" y2="390.6" stroke="#0000FF" stroke-width="1.2"/>
<line x1="232.4" y1="294.8" x2="232.4" y2="348" stroke="#0000FF" stroke-width="1.2"/><line x1="231.7" y1="294.8" x2="233.1" y2="294.8" stroke="#0000FF" stroke-width="1.2"/><line x1="231.7" y1="348" x2="233.1" y2="348" stroke="#0000FF" stroke-width="1.2"/>
<line x1="260" y1="300" x2="260" y2="341.2" stroke="#0000FF" stroke-width="1.2"/><line x1="259.3" y1="300" x2="260.7" y2="300" stroke="#0000FF" stroke-width="1.2"/><line x1="259.3" y1="341.2" x2="260.7" y2="341.2" stroke="#0000FF" stroke-width="1.2"/>
<line x1="324.4" y1="301.7" x2="324.4" y2="347.5" stroke="#0000FF" stroke-width="1.2"/><line x1="323.7" y1="301.7" x2="325.1" y2="301.7" stroke="#0000FF" stroke-width="1.2"/><line x1="323.7" y1="347.5" x2="325.1" y2="347.5" stroke="#0000FF" stroke-width="1.2"/>
<polyline points="57.6,339.6 76,358.2 140.4,331.6 149.6,317 223.2,344.8 232.4,321.6 260,320.8 324.4,324.5" fill="none" stroke="#0000FF" stroke-width="1.1"/>
<circle cx="57.6" cy="339.6" r="3.2" fill="#0000FF"/>
<circle cx="76" cy="358.2" r="3.2" fill="#0000FF"/>
<circle cx="140.4" cy="331.6" r="3.2" fill="#0000FF"/>
<circle cx="149.6" cy="317" r="3.2" fill="#0000FF"/>
<circle cx="223.2" cy="344.8" r="3.2" fill="#0000FF"/>
<circle cx="232.4" cy="321.6" r="3.2" fill="#0000FF"/>
<circle cx="260" cy="320.8" r="3.2" fill="#0000FF"/>
<circle cx="324.4" cy="324.5" r="3.2" fill="#0000FF"/>
<path d="M57.6 335.61 L62.05 335.39 L66.49 335.16 L70.94 334.93 L75.39 334.7 L79.83 334.47 L84.28 334.23 L88.73 333.99 L93.17 333.74 L97.62 333.49 L102.07 333.24 L106.51 332.98 L110.96 332.71 L115.41 332.44 L119.85 332.16 L124.3 331.87 L128.75 331.58 L133.19 331.28 L137.64 330.97 L142.09 330.66 L146.53 330.33 L150.98 330 L155.43 329.66 L159.87 329.31 L164.32 328.94 L168.77 328.57 L173.21 328.19 L177.66 327.8 L182.11 327.39 L186.55 326.98 L191 326.56 L195.45 326.12 L199.89 325.68 L204.34 325.23 L208.79 324.76 L213.23 324.29 L217.68 323.81 L222.13 323.33 L226.57 322.83 L231.02 322.33 L235.47 321.82 L239.91 321.3 L244.36 320.78 L248.81 320.25 L253.25 319.72 L257.7 319.18 L262.15 318.63 L266.59 318.09 L271.04 317.53 L275.49 316.98 L279.93 316.42 L284.38 315.85 L288.83 315.29 L293.27 314.72 L297.72 314.14 L302.17 313.57 L306.61 312.99 L311.06 312.41 L315.51 311.83 L319.95 311.24 L324.4 310.66 L324.4 328.94 L319.95 329.15 L315.51 329.36 L311.06 329.57 L306.61 329.78 L302.17 330 L297.72 330.22 L293.27 330.44 L288.83 330.66 L284.38 330.89 L279.93 331.12 L275.49 331.35 L271.04 331.59 L266.59 331.83 L262.15 332.08 L257.7 332.33 L253.25 332.58 L248.81 332.84 L244.36 333.11 L239.91 333.38 L235.47 333.65 L231.02 333.94 L226.57 334.23 L222.13 334.53 L217.68 334.83 L213.23 335.15 L208.79 335.47 L204.34 335.8 L199.89 336.14 L195.45 336.49 L191 336.85 L186.55 337.22 L182.11 337.6 L177.66 337.99 L173.21 338.39 L168.77 338.81 L164.32 339.23 L159.87 339.66 L155.43 340.1 L150.98 340.55 L146.53 341.01 L142.09 341.48 L137.64 341.96 L133.19 342.44 L128.75 342.94 L124.3 343.44 L119.85 343.95 L115.41 344.46 L110.96 344.98 L106.51 345.51 L102.07 346.04 L97.62 346.58 L93.17 347.13 L88.73 347.67 L84.28 348.22 L79.83 348.78 L75.39 349.34 L70.94 349.9 L66.49 350.47 L62.05 351.04 L57.6 351.61Z" fill="#999" fill-opacity="0.4"/>
<line x1="57.7" y1="343.6" x2="324.4" y2="319.8" stroke="#0000FF" stroke-width="2.4"/>
<path d="M57.6 319.64 L62.05 319.72 L66.49 319.81 L70.94 319.89 L75.39 319.97 L79.83 320.04 L84.28 320.12 L88.73 320.19 L93.17 320.26 L97.62 320.33 L102.07 320.4 L106.51 320.46 L110.96 320.52 L115.41 320.58 L119.85 320.64 L124.3 320.69 L128.75 320.74 L133.19 320.79 L137.64 320.84 L142.09 320.88 L146.53 320.92 L150.98 320.96 L155.43 321 L159.87 321.03 L164.32 321.06 L168.77 321.09 L173.21 321.11 L177.66 321.13 L182.11 321.15 L186.55 321.16 L191 321.17 L195.45 321.18 L199.89 321.19 L204.34 321.19 L208.79 321.19 L213.23 321.19 L217.68 321.18 L222.13 321.17 L226.57 321.16 L231.02 321.15 L235.47 321.13 L239.91 321.11 L244.36 321.09 L248.81 321.06 L253.25 321.04 L257.7 321.01 L262.15 320.97 L266.59 320.94 L271.04 320.9 L275.49 320.86 L279.93 320.82 L284.38 320.77 L288.83 320.73 L293.27 320.68 L297.72 320.63 L302.17 320.58 L306.61 320.52 L311.06 320.46 L315.51 320.41 L319.95 320.35 L324.4 320.28 L324.4 335.52 L319.95 335.43 L315.51 335.34 L311.06 335.26 L306.61 335.17 L302.17 335.09 L297.72 335.01 L293.27 334.93 L288.83 334.86 L284.38 334.79 L279.93 334.71 L275.49 334.65 L271.04 334.58 L266.59 334.51 L262.15 334.45 L257.7 334.39 L253.25 334.34 L248.81 334.28 L244.36 334.23 L239.91 334.18 L235.47 334.14 L231.02 334.09 L226.57 334.05 L222.13 334.01 L217.68 333.98 L213.23 333.94 L208.79 333.92 L204.34 333.89 L199.89 333.86 L195.45 333.84 L191 333.83 L186.55 333.81 L182.11 333.8 L177.66 333.79 L173.21 333.78 L168.77 333.78 L164.32 333.78 L159.87 333.78 L155.43 333.79 L150.98 333.8 L146.53 333.81 L142.09 333.82 L137.64 333.84 L133.19 333.86 L128.75 333.88 L124.3 333.91 L119.85 333.93 L115.41 333.96 L110.96 334 L106.51 334.03 L102.07 334.07 L97.62 334.11 L93.17 334.15 L88.73 334.19 L84.28 334.24 L79.83 334.29 L75.39 334.34 L70.94 334.39 L66.49 334.45 L62.05 334.5 L57.6 334.56Z" fill="#999" fill-opacity="0.4"/>
<line x1="57.7" y1="327.1" x2="324.4" y2="327.9" stroke="#FFA500" stroke-width="2.4"/>
<line x1="191.92" y1="295.8" x2="191.92" y2="353.5" stroke="#FFA500" stroke-width="1.2"/><line x1="190.02" y1="295.8" x2="193.82" y2="295.8" stroke="#FFA500" stroke-width="1.2"/><line x1="190.02" y1="353.5" x2="193.82" y2="353.5" stroke="#FFA500" stroke-width="1.2"/>
<line x1="133.96" y1="302.5" x2="133.96" y2="323.8" stroke="#0000FF" stroke-width="1.2"/><line x1="132.06" y1="302.5" x2="135.86" y2="302.5" stroke="#0000FF" stroke-width="1.2"/><line x1="132.06" y1="323.8" x2="135.86" y2="323.8" stroke="#0000FF" stroke-width="1.2"/>
<path d="M191.92 318.9L196.68 327.15L187.16 327.15Z" fill="#FFA500"/>
<path d="M133.96 307.2L138.72 315.45L129.2 315.45Z" fill="#0000FF"/>
</g>
<rect x="43.5" y="251.5" width="295.35" height="198.4" fill="none" stroke="#333" stroke-width="1.1"/>
<line x1="94.4" y1="449.9" x2="94.4" y2="452.3" stroke="#333" stroke-width="1.1"/>
<text transform="translate(94.4 465.5) scale(0.93 1)" fill="#000" text-anchor="middle" font-size="12.7" stroke="#000" stroke-width="0.25">10</text>
<line x1="186.4" y1="449.9" x2="186.4" y2="452.3" stroke="#333" stroke-width="1.1"/>
<text transform="translate(186.4 465.5) scale(0.93 1)" fill="#000" text-anchor="middle" font-size="12.7" stroke="#000" stroke-width="0.25">20</text>
<line x1="278.4" y1="449.9" x2="278.4" y2="452.3" stroke="#333" stroke-width="1.1"/>
<text transform="translate(278.4 465.5) scale(0.93 1)" fill="#000" text-anchor="middle" font-size="12.7" stroke="#000" stroke-width="0.25">30</text>
<line x1="41.1" y1="260.3" x2="43.5" y2="260.3" stroke="#333" stroke-width="1.1"/>
<text transform="translate(35.8 264.6) scale(0.93 1)" fill="#000" text-anchor="end" font-size="12.7" stroke="#000" stroke-width="0.25">8</text>
<line x1="41.1" y1="296.5" x2="43.5" y2="296.5" stroke="#333" stroke-width="1.1"/>
<text transform="translate(35.8 300.9) scale(0.93 1)" fill="#000" text-anchor="end" font-size="12.7" stroke="#000" stroke-width="0.25">7</text>
<line x1="41.1" y1="332.6" x2="43.5" y2="332.6" stroke="#333" stroke-width="1.1"/>
<text transform="translate(35.8 337.3) scale(0.93 1)" fill="#000" text-anchor="end" font-size="12.7" stroke="#000" stroke-width="0.25">6</text>
<line x1="41.1" y1="368.8" x2="43.5" y2="368.8" stroke="#333" stroke-width="1.1"/>
<text transform="translate(35.8 373.2) scale(0.93 1)" fill="#000" text-anchor="end" font-size="12.7" stroke="#000" stroke-width="0.25">5</text>
<line x1="41.1" y1="404.9" x2="43.5" y2="404.9" stroke="#333" stroke-width="1.1"/>
<text transform="translate(35.8 409) scale(0.93 1)" fill="#000" text-anchor="end" font-size="12.7" stroke="#000" stroke-width="0.25">4</text>
<line x1="41.1" y1="441.1" x2="43.5" y2="441.1" stroke="#333" stroke-width="1.1"/>
<text transform="translate(35.8 444.7) scale(0.93 1)" fill="#000" text-anchor="end" font-size="12.7" stroke="#000" stroke-width="0.25">3</text>
<clipPath id="cD"><rect x="396" y="251.4" width="288.4" height="198.5"/></clipPath>
<g clip-path="url(#cD)">
<line x1="410" y1="280.9" x2="410" y2="306" stroke="#FFA500" stroke-width="1.2"/><line x1="409.3" y1="280.9" x2="410.7" y2="280.9" stroke="#FFA500" stroke-width="1.2"/><line x1="409.3" y1="306" x2="410.7" y2="306" stroke="#FFA500" stroke-width="1.2"/>
<line x1="427.95" y1="282.5" x2="427.95" y2="298.4" stroke="#FFA500" stroke-width="1.2"/><line x1="427.25" y1="282.5" x2="428.65" y2="282.5" stroke="#FFA500" stroke-width="1.2"/><line x1="427.25" y1="298.4" x2="428.65" y2="298.4" stroke="#FFA500" stroke-width="1.2"/>
<line x1="490.77" y1="280.9" x2="490.77" y2="304" stroke="#FFA500" stroke-width="1.2"/><line x1="490.07" y1="280.9" x2="491.47" y2="280.9" stroke="#FFA500" stroke-width="1.2"/><line x1="490.07" y1="304" x2="491.47" y2="304" stroke="#FFA500" stroke-width="1.2"/>
<line x1="499.75" y1="282.9" x2="499.75" y2="299" stroke="#FFA500" stroke-width="1.2"/><line x1="499.05" y1="282.9" x2="500.45" y2="282.9" stroke="#FFA500" stroke-width="1.2"/><line x1="499.05" y1="299" x2="500.45" y2="299" stroke="#FFA500" stroke-width="1.2"/>
<line x1="571.55" y1="274.4" x2="571.55" y2="299" stroke="#FFA500" stroke-width="1.2"/><line x1="570.85" y1="274.4" x2="572.25" y2="274.4" stroke="#FFA500" stroke-width="1.2"/><line x1="570.85" y1="299" x2="572.25" y2="299" stroke="#FFA500" stroke-width="1.2"/>
<line x1="580.52" y1="280.4" x2="580.52" y2="369" stroke="#FFA500" stroke-width="1.2"/><line x1="579.82" y1="280.4" x2="581.23" y2="280.4" stroke="#FFA500" stroke-width="1.2"/><line x1="579.82" y1="369" x2="581.23" y2="369" stroke="#FFA500" stroke-width="1.2"/>
<line x1="607.45" y1="276.7" x2="607.45" y2="304" stroke="#FFA500" stroke-width="1.2"/><line x1="606.75" y1="276.7" x2="608.15" y2="276.7" stroke="#FFA500" stroke-width="1.2"/><line x1="606.75" y1="304" x2="608.15" y2="304" stroke="#FFA500" stroke-width="1.2"/>
<line x1="670.27" y1="281.2" x2="670.27" y2="317" stroke="#FFA500" stroke-width="1.2"/><line x1="669.57" y1="281.2" x2="670.98" y2="281.2" stroke="#FFA500" stroke-width="1.2"/><line x1="669.57" y1="317" x2="670.98" y2="317" stroke="#FFA500" stroke-width="1.2"/>
<polyline points="410,293.8 427.95,289.9 490.77,292.7 499.75,291 571.55,286.9 580.52,325 607.45,290.2 670.27,299.5" fill="none" stroke="#FFA500" stroke-width="1.1"/>
<circle cx="410" cy="293.8" r="3.2" fill="#FFA500"/>
<circle cx="427.95" cy="289.9" r="3.2" fill="#FFA500"/>
<circle cx="490.77" cy="292.7" r="3.2" fill="#FFA500"/>
<circle cx="499.75" cy="291" r="3.2" fill="#FFA500"/>
<circle cx="571.55" cy="286.9" r="3.2" fill="#FFA500"/>
<circle cx="580.52" cy="325" r="3.2" fill="#FFA500"/>
<circle cx="607.45" cy="290.2" r="3.2" fill="#FFA500"/>
<circle cx="670.27" cy="299.5" r="3.2" fill="#FFA500"/>
<line x1="410" y1="291.8" x2="410" y2="320.7" stroke="#0000FF" stroke-width="1.2"/><line x1="409.3" y1="291.8" x2="410.7" y2="291.8" stroke="#0000FF" stroke-width="1.2"/><line x1="409.3" y1="320.7" x2="410.7" y2="320.7" stroke="#0000FF" stroke-width="1.2"/>
<line x1="427.95" y1="299.2" x2="427.95" y2="325" stroke="#0000FF" stroke-width="1.2"/><line x1="427.25" y1="299.2" x2="428.65" y2="299.2" stroke="#0000FF" stroke-width="1.2"/><line x1="427.25" y1="325" x2="428.65" y2="325" stroke="#0000FF" stroke-width="1.2"/>
<line x1="490.77" y1="288.6" x2="490.77" y2="316.3" stroke="#0000FF" stroke-width="1.2"/><line x1="490.07" y1="288.6" x2="491.47" y2="288.6" stroke="#0000FF" stroke-width="1.2"/><line x1="490.07" y1="316.3" x2="491.47" y2="316.3" stroke="#0000FF" stroke-width="1.2"/>
<line x1="499.75" y1="296.4" x2="499.75" y2="304.6" stroke="#0000FF" stroke-width="1.2"/><line x1="499.05" y1="296.4" x2="500.45" y2="296.4" stroke="#0000FF" stroke-width="1.2"/><line x1="499.05" y1="304.6" x2="500.45" y2="304.6" stroke="#0000FF" stroke-width="1.2"/>
<line x1="571.55" y1="284.5" x2="571.55" y2="322.4" stroke="#0000FF" stroke-width="1.2"/><line x1="570.85" y1="284.5" x2="572.25" y2="284.5" stroke="#0000FF" stroke-width="1.2"/><line x1="570.85" y1="322.4" x2="572.25" y2="322.4" stroke="#0000FF" stroke-width="1.2"/>
<line x1="580.52" y1="289.4" x2="580.52" y2="299.5" stroke="#0000FF" stroke-width="1.2"/><line x1="579.82" y1="289.4" x2="581.23" y2="289.4" stroke="#0000FF" stroke-width="1.2"/><line x1="579.82" y1="299.5" x2="581.23" y2="299.5" stroke="#0000FF" stroke-width="1.2"/>
<line x1="607.45" y1="281.2" x2="607.45" y2="316.8" stroke="#0000FF" stroke-width="1.2"/><line x1="606.75" y1="281.2" x2="608.15" y2="281.2" stroke="#0000FF" stroke-width="1.2"/><line x1="606.75" y1="316.8" x2="608.15" y2="316.8" stroke="#0000FF" stroke-width="1.2"/>
<line x1="670.27" y1="282.9" x2="670.27" y2="321.7" stroke="#0000FF" stroke-width="1.2"/><line x1="669.57" y1="282.9" x2="670.98" y2="282.9" stroke="#0000FF" stroke-width="1.2"/><line x1="669.57" y1="321.7" x2="670.98" y2="321.7" stroke="#0000FF" stroke-width="1.2"/>
<polyline points="410,305.7 427.95,308.7 490.77,301.6 499.75,298.4 571.55,303.8 580.52,294.3 607.45,299.2 670.27,302.8" fill="none" stroke="#0000FF" stroke-width="1.1"/>
<circle cx="410" cy="305.7" r="3.2" fill="#0000FF"/>
<circle cx="427.95" cy="308.7" r="3.2" fill="#0000FF"/>
<circle cx="490.77" cy="301.6" r="3.2" fill="#0000FF"/>
<circle cx="499.75" cy="298.4" r="3.2" fill="#0000FF"/>
<circle cx="571.55" cy="303.8" r="3.2" fill="#0000FF"/>
<circle cx="580.52" cy="294.3" r="3.2" fill="#0000FF"/>
<circle cx="607.45" cy="299.2" r="3.2" fill="#0000FF"/>
<circle cx="670.27" cy="302.8" r="3.2" fill="#0000FF"/>
<path d="M410 301.99 L414.34 302 L418.68 302.01 L423.01 302.02 L427.35 302.02 L431.69 302.03 L436.03 302.03 L440.37 302.04 L444.7 302.04 L449.04 302.04 L453.38 302.04 L457.72 302.04 L462.06 302.03 L466.39 302.03 L470.73 302.02 L475.07 302.01 L479.41 302 L483.74 301.99 L488.08 301.97 L492.42 301.95 L496.76 301.93 L501.1 301.91 L505.43 301.88 L509.77 301.84 L514.11 301.81 L518.45 301.76 L522.79 301.72 L527.12 301.67 L531.46 301.61 L535.8 301.55 L540.14 301.48 L544.48 301.41 L548.81 301.34 L553.15 301.26 L557.49 301.17 L561.83 301.08 L566.16 300.99 L570.5 300.89 L574.84 300.79 L579.18 300.68 L583.52 300.58 L587.85 300.47 L592.19 300.35 L596.53 300.24 L600.87 300.12 L605.21 300 L609.54 299.88 L613.88 299.75 L618.22 299.63 L622.56 299.5 L626.9 299.37 L631.23 299.25 L635.57 299.12 L639.91 298.98 L644.25 298.85 L648.59 298.72 L652.92 298.58 L657.26 298.45 L661.6 298.31 L665.94 298.18 L670.27 298.04 L670.27 303.96 L665.94 303.95 L661.6 303.94 L657.26 303.93 L652.92 303.92 L648.59 303.91 L644.25 303.91 L639.91 303.9 L635.57 303.9 L631.23 303.89 L626.9 303.89 L622.56 303.89 L618.22 303.89 L613.88 303.89 L609.54 303.89 L605.21 303.9 L600.87 303.91 L596.53 303.92 L592.19 303.93 L587.85 303.94 L583.52 303.96 L579.18 303.97 L574.84 304 L570.5 304.02 L566.16 304.05 L561.83 304.08 L557.49 304.12 L553.15 304.16 L548.81 304.21 L544.48 304.26 L540.14 304.32 L535.8 304.38 L531.46 304.44 L527.12 304.51 L522.79 304.59 L518.45 304.67 L514.11 304.75 L509.77 304.84 L505.43 304.94 L501.1 305.03 L496.76 305.13 L492.42 305.24 L488.08 305.35 L483.74 305.46 L479.41 305.57 L475.07 305.68 L470.73 305.8 L466.39 305.92 L462.06 306.04 L457.72 306.17 L453.38 306.29 L449.04 306.42 L444.7 306.55 L440.37 306.68 L436.03 306.81 L431.69 306.94 L427.35 307.07 L423.01 307.2 L418.68 307.34 L414.34 307.47 L410 307.61Z" fill="#999" fill-opacity="0.4"/>
<line x1="409.9" y1="304.8" x2="670.3" y2="301" stroke="#0000FF" stroke-width="2.4"/>
<path d="M410 284.12 L414.34 284.44 L418.68 284.76 L423.01 285.07 L427.35 285.38 L431.69 285.69 L436.03 286 L440.37 286.3 L444.7 286.6 L449.04 286.9 L453.38 287.2 L457.72 287.49 L462.06 287.77 L466.39 288.05 L470.73 288.33 L475.07 288.6 L479.41 288.86 L483.74 289.12 L488.08 289.37 L492.42 289.61 L496.76 289.85 L501.1 290.08 L505.43 290.29 L509.77 290.5 L514.11 290.7 L518.45 290.88 L522.79 291.06 L527.12 291.22 L531.46 291.38 L535.8 291.52 L540.14 291.64 L544.48 291.76 L548.81 291.87 L553.15 291.96 L557.49 292.04 L561.83 292.11 L566.16 292.18 L570.5 292.23 L574.84 292.27 L579.18 292.31 L583.52 292.33 L587.85 292.35 L592.19 292.36 L596.53 292.37 L600.87 292.37 L605.21 292.36 L609.54 292.35 L613.88 292.33 L618.22 292.31 L622.56 292.29 L626.9 292.26 L631.23 292.23 L635.57 292.19 L639.91 292.16 L644.25 292.12 L648.59 292.07 L652.92 292.03 L657.26 291.98 L661.6 291.93 L665.94 291.88 L670.27 291.83 L670.27 307.57 L665.94 307.24 L661.6 306.92 L657.26 306.61 L652.92 306.29 L648.59 305.97 L644.25 305.66 L639.91 305.35 L635.57 305.05 L631.23 304.74 L626.9 304.44 L622.56 304.14 L618.22 303.85 L613.88 303.56 L609.54 303.27 L605.21 302.99 L600.87 302.71 L596.53 302.44 L592.19 302.18 L587.85 301.92 L583.52 301.67 L579.18 301.43 L574.84 301.19 L570.5 300.96 L566.16 300.75 L561.83 300.54 L557.49 300.34 L553.15 300.15 L548.81 299.98 L544.48 299.81 L540.14 299.66 L535.8 299.52 L531.46 299.39 L527.12 299.27 L522.79 299.16 L518.45 299.07 L514.11 298.99 L509.77 298.91 L505.43 298.85 L501.1 298.8 L496.76 298.75 L492.42 298.72 L488.08 298.69 L483.74 298.67 L479.41 298.66 L475.07 298.66 L470.73 298.66 L466.39 298.66 L462.06 298.67 L457.72 298.69 L453.38 298.71 L449.04 298.73 L444.7 298.76 L440.37 298.79 L436.03 298.83 L431.69 298.86 L427.35 298.9 L423.01 298.95 L418.68 298.99 L414.34 299.04 L410 299.09Z" fill="#999" fill-opacity="0.4"/>
<line x1="409.9" y1="291.6" x2="670.3" y2="299.7" stroke="#FFA500" stroke-width="2.4"/>
<line x1="541.03" y1="282" x2="541.03" y2="307" stroke="#FFA500" stroke-width="1.2"/><line x1="539.13" y1="282" x2="542.93" y2="282" stroke="#FFA500" stroke-width="1.2"/><line x1="539.13" y1="307" x2="542.93" y2="307" stroke="#FFA500" stroke-width="1.2"/>
<line x1="484.49" y1="289.1" x2="484.49" y2="307.3" stroke="#0000FF" stroke-width="1.2"/><line x1="482.59" y1="289.1" x2="486.39" y2="289.1" stroke="#0000FF" stroke-width="1.2"/><line x1="482.59" y1="307.3" x2="486.39" y2="307.3" stroke="#0000FF" stroke-width="1.2"/>
<path d="M541.03 288.8L545.8 297.05L536.27 297.05Z" fill="#FFA500"/>
<path d="M484.49 291.7L489.26 299.95L479.73 299.95Z" fill="#0000FF"/>
</g>
<rect x="396" y="251.4" width="288.4" height="198.5" fill="none" stroke="#333" stroke-width="1.1"/>
<line x1="445.9" y1="449.9" x2="445.9" y2="452.3" stroke="#333" stroke-width="1.1"/>
<text transform="translate(445.9 465.5) scale(0.93 1)" fill="#4D4D4D" text-anchor="middle" font-size="12.7" stroke="#4D4D4D" stroke-width="0.25">10</text>
<line x1="535.65" y1="449.9" x2="535.65" y2="452.3" stroke="#333" stroke-width="1.1"/>
<text transform="translate(535.65 465.5) scale(0.93 1)" fill="#4D4D4D" text-anchor="middle" font-size="12.7" stroke="#4D4D4D" stroke-width="0.25">20</text>
<line x1="625.4" y1="449.9" x2="625.4" y2="452.3" stroke="#333" stroke-width="1.1"/>
<text transform="translate(625.4 465.5) scale(0.93 1)" fill="#4D4D4D" text-anchor="middle" font-size="12.7" stroke="#4D4D4D" stroke-width="0.25">30</text>
<line x1="393.6" y1="255.9" x2="396" y2="255.9" stroke="#333" stroke-width="1.1"/>
<text transform="translate(390.5 259.7) scale(0.93 1)" fill="#4D4D4D" text-anchor="end" font-size="12.7" stroke="#4D4D4D" stroke-width="0.25">1.0</text>
<line x1="393.6" y1="302.2" x2="396" y2="302.2" stroke="#333" stroke-width="1.1"/>
<text transform="translate(390.5 305.95) scale(0.93 1)" fill="#4D4D4D" text-anchor="end" font-size="12.7" stroke="#4D4D4D" stroke-width="0.25">0.9</text>
<line x1="393.6" y1="348.5" x2="396" y2="348.5" stroke="#333" stroke-width="1.1"/>
<text transform="translate(390.5 352.2) scale(0.93 1)" fill="#4D4D4D" text-anchor="end" font-size="12.7" stroke="#4D4D4D" stroke-width="0.25">0.8</text>
<line x1="393.6" y1="394.7" x2="396" y2="394.7" stroke="#333" stroke-width="1.1"/>
<text transform="translate(390.5 398.45) scale(0.93 1)" fill="#4D4D4D" text-anchor="end" font-size="12.7" stroke="#4D4D4D" stroke-width="0.25">0.7</text>
<line x1="393.6" y1="441" x2="396" y2="441" stroke="#333" stroke-width="1.1"/>
<text transform="translate(390.5 444.7) scale(0.93 1)" fill="#4D4D4D" text-anchor="end" font-size="12.7" stroke="#4D4D4D" stroke-width="0.25">0.6</text>
<text x="-0.3" y="9.8" font-size="14" stroke="#000" stroke-width="0.2">A</text>
<text x="341.9" y="9.8" font-size="14" stroke="#000" stroke-width="0.2">B</text>
<text x="-0.3" y="253.4" font-size="14" stroke="#000" stroke-width="0.2">C</text>
<text x="341.0" y="253.7" font-size="14" stroke="#000" stroke-width="0.2">D</text>
<text transform="translate(20 113.8) rotate(-90)" text-anchor="middle" font-size="13.3" stroke="#000" stroke-width="0.2">Bottom water Shannon index</text>
<text transform="translate(366.4 112.4) rotate(-90)" text-anchor="middle" font-size="13.3" stroke="#000" stroke-width="0.2">Bottom water Shannon evenness</text>
<text transform="translate(20 358.2) rotate(-90)" text-anchor="middle" font-size="13.3" stroke="#000" stroke-width="0.2">Sediment Shannon index</text>
<text transform="translate(366.4 357.9) rotate(-90)" text-anchor="middle" font-size="13.3" stroke="#000" stroke-width="0.2">Sediment Shannon evenness</text>
<text x="182.3" y="487.1" text-anchor="middle" font-size="13.3" stroke="#000" stroke-width="0.2">Temperature (°C)</text>
<text x="537.6" y="487.1" text-anchor="middle" font-size="13.3" stroke="#000" stroke-width="0.2">Temperature (°C)</text>
<path d="M55.75 23.7 L63.1 36.2 L48.4 36.2 Z" fill="none" stroke="#000" stroke-width="1.1"/>
<text x="66.5" y="34.5" font-size="13.3" stroke="#000" stroke-width="0.2">Field</text>
<circle cx="116.7" cy="29.8" r="5.45" fill="none" stroke="#000" stroke-width="1.1"/>
<text x="125.1" y="34.5" font-size="13.3" stroke="#000" stroke-width="0.2">Mesocosm</text>
<rect x="205.2" y="25.2" width="10" height="9.7" fill="#0000FF"/>
<text x="218.2" y="34.5" font-size="13.3" stroke="#000" stroke-width="0.2">Control</text>
<rect x="277.5" y="25.2" width="10.2" height="9.7" fill="#FFA500"/>
<text x="291.3" y="34.5" font-size="13.3" stroke="#000" stroke-width="0.2">Heated</text>
</svg>
</body></html>
